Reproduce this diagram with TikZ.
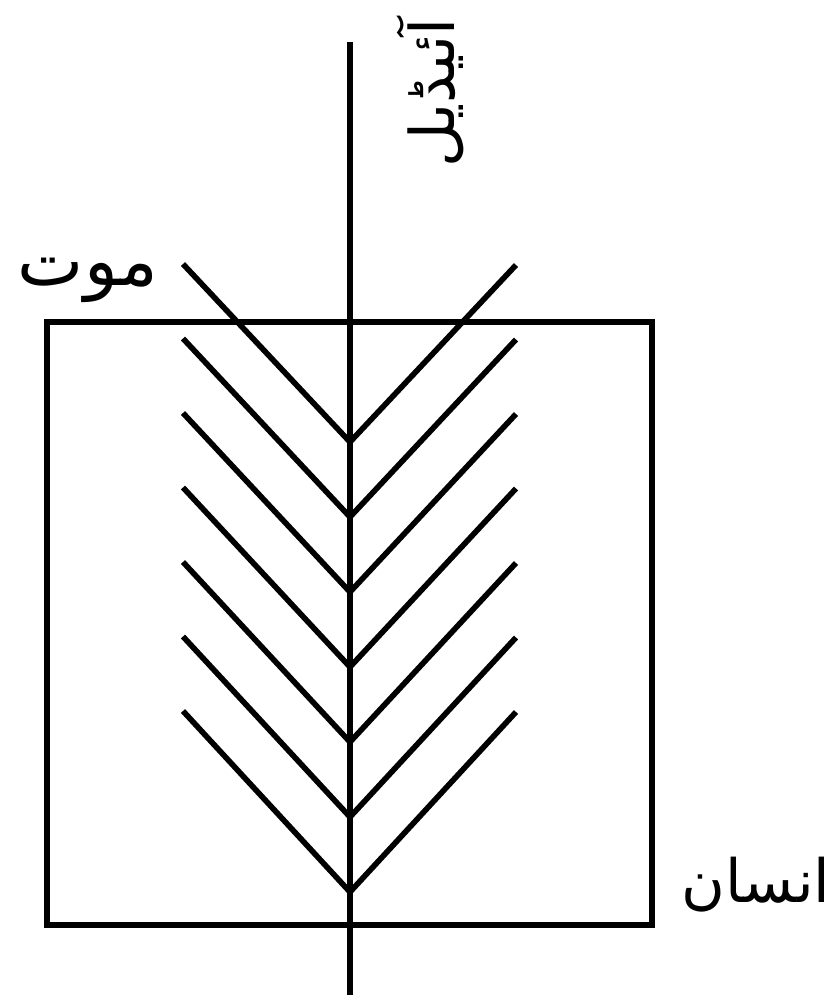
\documentclass[tikz,border=0pt]{standalone}
\usepackage{fontspec}
\newfontfamily\arabicfont[Script=Arabic]{DejaVu Sans}
\TeXXeTstate=1
\begin{document}
\begin{tikzpicture}[x=1cm,y=-1cm,
  ink/.style={line width=1.6pt, line join=miter},
  lbl/.style={inner sep=0pt, font=\arabicfont\fontsize{20}{24}\selectfont}]
\useasboundingbox (0,0) rectangle (8.36,10.06);
\draw[ink] (0.47,3.22) rectangle (6.52,9.25);
\coordinate (top) at (3.50,0.42);
\coordinate (bot) at (3.50,9.95);
\draw[ink] (top) -- (bot);
\foreach \k in {0,...,6} {
  \coordinate (v\k) at (3.50,{4.42+0.75*\k});
  \coordinate (l\k) at (1.83,{2.64+0.745*\k});
  \coordinate (r\k) at (5.16,{2.65+0.745*\k});
  \draw[ink] (l\k) -- (v\k) -- (r\k);
}
\node[lbl] (mawt) at (0.88,2.80) {\beginR موت\endR};
\node[lbl, font=\arabicfont\fontsize{17}{20}\selectfont] (insan) at (7.56,8.85) {\beginR انسان\endR};
\node[lbl, font=\arabicfont\fontsize{17.5}{20}\selectfont, rotate=90] (ideal) at (4.30,0.93) {\beginR آئیڈیل\endR};
\end{tikzpicture}
\end{document}
